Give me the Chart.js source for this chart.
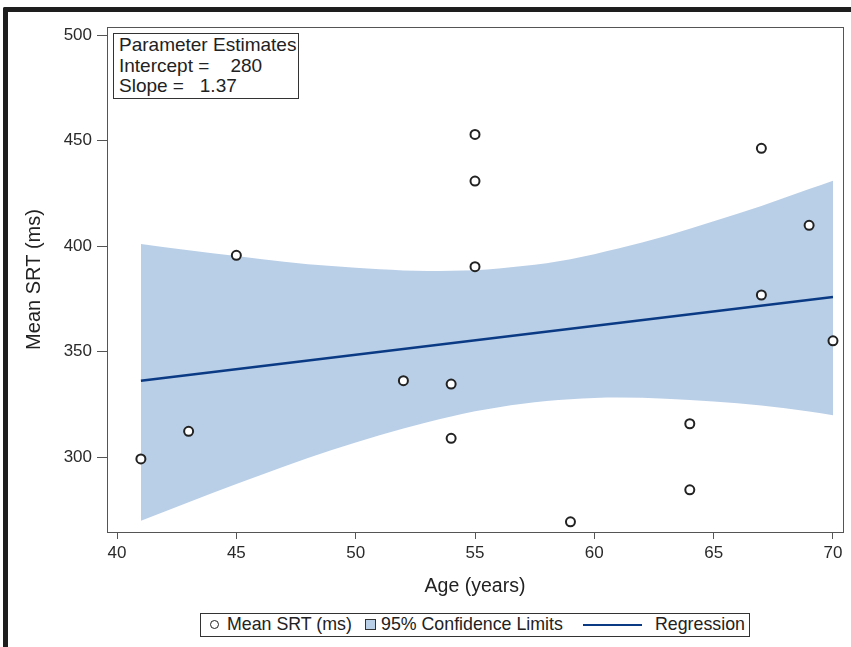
<!DOCTYPE html>
<html>
<head>
<meta charset="utf-8">
<script src="https://cdn.jsdelivr.net/npm/chart.js@4/dist/chart.umd.min.js"></script>
<style>
  html, body { margin: 0; padding: 0; background: #fff; }
  body { width: 851px; height: 647px; position: relative; overflow: hidden;
         font-family: "Liberation Sans", Arial, sans-serif; color: #222; }
  #c { position: absolute; left: 0; top: 0; }
  #frame { position: absolute; left: 3px; top: 7px; width: 900px; height: 700px;
           border-top: 5px solid #1e1e1e; border-left: 5px solid #1e1e1e; border-top-left-radius: 2px; pointer-events: none; }
  #params { position: absolute; left: 113px; top: 33px; width: 184px; height: 64px;
            border: 1.5px solid #333; background: #fff; font-size: 19px; line-height: 21px; white-space: pre; }
  #params div { position: absolute; left: 5px; }
  #legend { position: absolute; left: 200px; top: 613px; width: 548px; height: 22px;
            border: 1.5px solid #333; background: #fff; font-size: 17.8px; }
  #legend .t { position: absolute; top: 0px; line-height: 21px; white-space: pre; }
  #legend .circ { position: absolute; left: 9px; top: 6px; width: 7px; height: 7px; border: 1.6px solid #222; border-radius: 50%; }
  #legend .sq { position: absolute; left: 164px; top: 5px; width: 9px; height: 9px; border: 1.3px solid #333; background: #b9cfe7; }
  #legend .ln { position: absolute; left: 382px; top: 9.5px; width: 59px; height: 2.5px; background: #0b3a85; }
</style>
</head>
<body>
<canvas id="c" width="851" height="647"></canvas>
<div id="params"></div>
<div id="legend"></div>
<div id="frame"></div>
<script>
// ---- data ----
const ageYears = [41, 43, 45, 52, 54, 54, 55, 55, 55, 59, 64, 64, 67, 67, 69, 70];
const meanSRT  = [299.1, 312.2, 395.6, 336.2, 334.6, 308.9, 452.9, 430.8, 390.2, 269.3, 315.8, 284.5, 446.3, 376.8, 409.8, 355.1];

const regressionX = [41, 70];
const regressionY = [336.2, 375.9];

const bandX     = [41, 43, 45, 47, 49, 51, 53, 55, 57, 59, 61, 63, 65, 67, 69, 70];
const bandUpper = [401.0, 398.0, 395.3, 392.6, 390.5, 389.0, 388.2, 388.5, 390.5, 393.8, 398.8, 404.8, 411.7, 419.0, 427.0, 431.0];
const bandLower = [269.8, 278.6, 287.2, 295.5, 303.3, 310.4, 316.5, 321.7, 325.3, 327.4, 328.2, 327.7, 326.3, 324.5, 321.6, 319.8];

const xTicks = [40, 45, 50, 55, 60, 65, 70];
const yTicks = [300, 350, 400, 450, 500];
const xRange = [39.58, 70.42];
const yRange = [264.5, 503.8];

const paramTitle = "Parameter Estimates";
const interceptValue = "280";
const slopeValue = "1.37";

const seriesNames = ["Mean SRT (ms)", "95% Confidence Limits", "Regression"];
const xTitle = "Age (years)";
const yTitle = "Mean SRT (ms)";

// ---- colours ----
const BAND = "#b9cfe7";
const NAVY = "#0b3a85";
const INK = "#222222";
const AXIS = "#555555";

const pts = (xs, ys) => xs.map((x, i) => ({ x: x, y: ys[i] }));

const framePlugin = {
  id: "frame",
  afterDraw(chart) {
    const a = chart.chartArea, ctx = chart.ctx;
    ctx.save();
    ctx.strokeStyle = AXIS;
    ctx.lineWidth = 1;
    ctx.strokeRect(Math.round(a.left) + 0.5, Math.round(a.top) + 0.5,
                   Math.round(a.right - a.left), Math.round(a.bottom - a.top));
    ctx.restore();
  }
};

Chart.defaults.font.family = '"Liberation Sans", Arial, sans-serif';
Chart.defaults.color = "#333";

new Chart(document.getElementById("c"), {
  type: "scatter",
  data: {
    datasets: [
      {
        label: seriesNames[0],
        data: pts(ageYears, meanSRT),
        pointRadius: 4.5,
        pointBorderWidth: 2,
        pointBorderColor: INK,
        pointBackgroundColor: "#ffffff",
        showLine: false
      },
      {
        label: seriesNames[2],
        data: pts(regressionX, regressionY),
        showLine: true,
        borderColor: NAVY,
        borderWidth: 2.5,
        pointRadius: 0,
        fill: false
      },
      {
        label: seriesNames[1],
        data: pts(bandX, bandUpper),
        showLine: true,
        borderWidth: 0,
        borderColor: BAND,
        backgroundColor: BAND,
        pointRadius: 0,
        cubicInterpolationMode: "monotone",
        fill: "+1"
      },
      {
        label: seriesNames[1] + " (lower)",
        data: pts(bandX, bandLower),
        showLine: true,
        borderWidth: 0,
        borderColor: BAND,
        pointRadius: 0,
        cubicInterpolationMode: "monotone",
        fill: false
      }
    ]
  },
  options: {
    responsive: false,
    animation: false,
    devicePixelRatio: 1,
    layout: { padding: { top: 27, right: 8, left: 0, bottom: 0 } },
    plugins: {
      legend: { display: false },
      tooltip: { enabled: false }
    },
    scales: {
      x: {
        type: "linear",
        min: xRange[0],
        max: xRange[1],
        afterBuildTicks: (s) => { s.ticks = xTicks.map(v => ({ value: v })); },
        afterFit: (s) => { s.height = 115; },
        grid: { display: true, drawOnChartArea: false, drawTicks: true, tickLength: 7, color: AXIS, tickColor: AXIS },
        border: { display: true, color: AXIS, width: 1 },
        ticks: { padding: 4, color: "#2a2a2a", font: { size: 17 }, maxRotation: 0 },
        title: { display: true, text: xTitle, color: INK, font: { size: 19.5 }, padding: { top: 0, bottom: 48.3 } }
      },
      y: {
        type: "linear",
        min: yRange[0],
        max: yRange[1],
        afterBuildTicks: (s) => { s.ticks = yTicks.map(v => ({ value: v })); },
        afterFit: (s) => { s.width = 107; },
        grid: { display: true, drawOnChartArea: false, drawTicks: true, tickLength: 10, color: AXIS, tickColor: AXIS },
        border: { display: true, color: AXIS, width: 1 },
        ticks: { padding: 5, color: "#2a2a2a", font: { size: 17 } },
        title: { display: true, text: yTitle, color: INK, font: { size: 20 }, padding: { top: 22.5, bottom: 0 } }
      }
    }
  },
  plugins: [framePlugin]
});

// inset box
const params = document.getElementById("params");
[[paramTitle, 0], ["Intercept =    " + interceptValue, 21], ["Slope =   " + slopeValue, 41]].forEach(([txt, top]) => {
  const d = document.createElement("div");
  d.textContent = txt;
  d.style.top = top + "px";
  params.appendChild(d);
});

// legend
const legend = document.getElementById("legend");
legend.innerHTML =
  '<span class="circ"></span><span class="t" style="left:26px"></span>' +
  '<span class="sq"></span><span class="t" style="left:180px"></span>' +
  '<span class="ln"></span><span class="t" style="left:454px"></span>';
const texts = legend.querySelectorAll(".t");
texts[0].textContent = seriesNames[0];
texts[1].textContent = seriesNames[1];
texts[2].textContent = seriesNames[2];
</script>
</body>
</html>
